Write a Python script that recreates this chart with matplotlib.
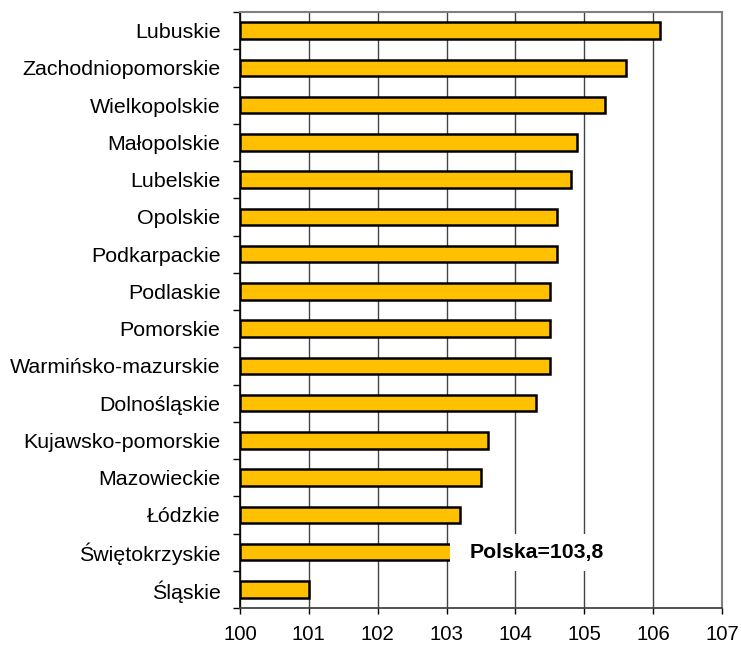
import matplotlib
matplotlib.use("Agg")
import matplotlib.pyplot as plt
from matplotlib.patches import Rectangle
import numpy as np

plt.rcParams['font.family'] = ['Liberation Sans', 'DejaVu Sans']

regions = ["Lubuskie", "Zachodniopomorskie", "Wielkopolskie", "Małopolskie",
           "Lubelskie", "Opolskie", "Podkarpackie", "Podlaskie", "Pomorskie",
           "Warmińsko-mazurskie", "Dolnośląskie", "Kujawsko-pomorskie",
           "Mazowieckie", "Łódzkie", "Świętokrzyskie", "Śląskie"]
values = [106.1, 105.6, 105.3, 104.9, 104.8, 104.6, 104.6, 104.5, 104.5,
          104.5, 104.3, 103.6, 103.5, 103.2, 103.1, 101.0]
x_ticks = [100, 101, 102, 103, 104, 105, 106, 107]
polska_label = "Polska=103,8"

fig = plt.figure(figsize=(7.41, 6.45), dpi=100)
ax = fig.add_axes([240/741, 1 - 608/645, (722-240)/741, (608-12)/645])

n = len(regions)
ypos = np.arange(n)
base = 100
ax.barh(ypos, [v - base for v in values], left=base, height=0.44,
        color="#FFC000", edgecolor="black", linewidth=1.8, zorder=3)

ax.set_xlim(100, 107)
ax.set_ylim(n - 0.5, -0.5)
ax.set_xticks(x_ticks)
ax.set_xticklabels([str(t) for t in x_ticks], fontsize=14.7)
ax.xaxis.grid(True, color="#444444", linewidth=1.0, zorder=0)
ax.set_axisbelow(True)

ax.set_yticks(np.arange(n + 1) - 0.5)
ax.set_yticklabels([])
ax.set_yticks(ypos, minor=True)
ax.set_yticklabels(regions, minor=True, fontsize=15.4)
ax.tick_params(axis='y', which='minor', length=0, pad=14)
ax.tick_params(axis='y', which='major', length=5, width=1, color='black', direction='out')
ax.tick_params(axis='x', length=4, width=1, color='black', direction='out', pad=8)

ax.spines['left'].set_color('black')
ax.spines['left'].set_linewidth(1.2)
for s in ['top', 'right']:
    ax.spines[s].set_color('#808080')
    ax.spines[s].set_linewidth(1.5)
ax.spines['bottom'].set_color('#444444')
ax.spines['bottom'].set_linewidth(1.3)

# white label box covering part of the bar
ax.add_patch(Rectangle((103.05, 13.5), 2.35, 1.0, facecolor='white',
                       edgecolor='none', zorder=4))
ax.text(104.31, 14, polska_label, fontsize=15.3, fontweight='bold',
        ha='center', va='center', zorder=5)

fig.savefig("out.png", dpi=100)
